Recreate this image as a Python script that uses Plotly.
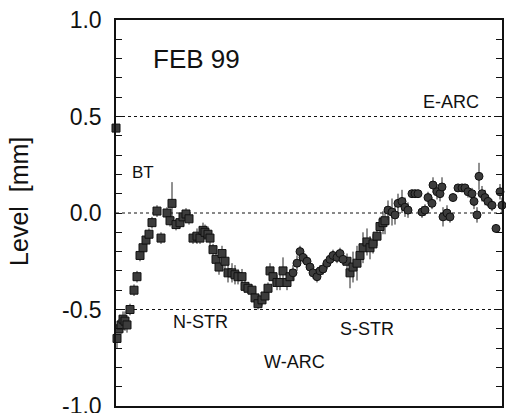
import plotly.graph_objects as go

# position along the ring (arbitrary units) and measured level [mm]
position = [0, 1, 3, 5, 7, 9, 11, 14, 18, 21, 24, 27, 30, 33, 36, 41, 45, 51, 54, 56, 60, 64, 67, 70,
            73, 77, 81, 84, 87, 89, 92, 94, 97, 100, 103, 106, 109, 112, 116, 119, 122, 126, 129, 132,
            136, 139, 142, 146, 149, 152, 154, 157, 161, 164, 167, 171, 174, 177, 181, 184, 187, 191,
            194, 197, 201, 204, 207, 211, 214, 217, 221, 224, 227, 231, 234, 237, 241, 244, 247, 251,
            254, 257, 261, 264, 267, 269, 272, 276, 279, 282, 286, 289, 292, 296, 299, 302, 306, 309,
            312, 316, 317, 321, 324, 326, 327, 331, 334, 337, 342, 346, 349, 352, 356, 358, 361, 363,
            366, 369, 372, 376, 380, 384, 386]
level = [0.44, -0.65, -0.60, -0.58, -0.55, -0.56, -0.58, -0.50, -0.40, -0.33, -0.22, -0.18, -0.14,
         -0.11, -0.05, 0.01, -0.13, 0.00, -0.04, 0.05, -0.06, -0.05, -0.02, -0.005, -0.03, -0.13,
         -0.12, -0.13, -0.09, -0.10, -0.11, -0.13, -0.19, -0.24, -0.28, -0.21, -0.25, -0.31, -0.31,
         -0.32, -0.33, -0.33, -0.38, -0.39, -0.40, -0.44, -0.47, -0.45, -0.43, -0.39, -0.30, -0.33,
         -0.36, -0.36, -0.30, -0.36, -0.33, -0.31, -0.26, -0.20, -0.23, -0.25, -0.28, -0.31, -0.33,
         -0.30, -0.29, -0.26, -0.24, -0.22, -0.23, -0.21, -0.24, -0.25, -0.31, -0.28, -0.26, -0.22,
         -0.18, -0.15, -0.18, -0.16, -0.12, -0.07, -0.05, -0.04, 0.015, 0.005, -0.01, 0.05, 0.06,
         0.03, 0.015, 0.10, 0.10, 0.10, 0.005, 0.015, 0.08, 0.05, 0.145, 0.11, 0.10, 0.135, -0.02,
         0.00, -0.02, 0.08, 0.13, 0.13, 0.13, 0.11, 0.10, 0.06, -0.01, 0.19, 0.10, 0.08, 0.06, 0.04,
         -0.08, 0.11, 0.04]
error = [0.02, 0.05, 0.05, 0.05, 0.04, 0.05, 0.04, 0.03, 0.03, 0.03, 0.03, 0.03, 0.03, 0.03, 0.03,
         0.03, 0.03, 0.03, 0.03, 0.11, 0.03, 0.03, 0.03, 0.03, 0.03, 0.03, 0.04, 0.03, 0.04, 0.04,
         0.04, 0.04, 0.03, 0.04, 0.04, 0.04, 0.04, 0.05, 0.05, 0.05, 0.04, 0.04, 0.03, 0.03, 0.03,
         0.03, 0.03, 0.03, 0.03, 0.03, 0.04, 0.04, 0.04, 0.04, 0.07, 0.04, 0.04, 0.04, 0.04, 0.03,
         0.03, 0.03, 0.03, 0.03, 0.03, 0.03, 0.03, 0.03, 0.03, 0.03, 0.03, 0.03, 0.03, 0.04, 0.08,
         0.08, 0.09, 0.06, 0.08, 0.07, 0.06, 0.05, 0.05, 0.05, 0.06, 0.07, 0.05, 0.07, 0.05, 0.05,
         0.06, 0.05, 0.04, 0.02, 0.02, 0.02, 0.03, 0.03, 0.03, 0.03, 0.04, 0.04, 0.04, 0.05, 0.05,
         0.04, 0.03, 0.02, 0.02, 0.02, 0.02, 0.03, 0.03, 0.04, 0.04, 0.07, 0.04, 0.04, 0.03, 0.03,
         0.02, 0.04, 0.04]

ref_levels = [0.5, 0.0, -0.5]
region_labels = ["FEB 99", "BT", "E-ARC", "N-STR", "S-STR", "W-ARC"]
region_x = [80, 27, 335, 84, 251, 178]
region_y = [0.80, 0.21, 0.575, -0.565, -0.60, -0.77]
region_size = [26, 17, 18, 18, 18, 18]

y_ticks = [round(-1.0 + 0.1 * i, 1) for i in range(21)]
y_labels = ["%.1f" % v if abs(v * 2 - round(v * 2)) < 1e-6 else "" for v in y_ticks]

FONT = "Liberation Sans, Arial, Helvetica, sans-serif"

def in_square_group(p):
    return p <= 174 or 231 <= p <= 269

sq = [i for i, p in enumerate(position) if in_square_group(p)]
ci = [i for i, p in enumerate(position) if not in_square_group(p)]

fig = go.Figure()
for idx, sym in ((sq, "square"), (ci, "circle")):
    fig.add_trace(go.Scatter(
        x=[position[i] for i in idx], y=[level[i] for i in idx],
        mode="markers",
        marker=dict(symbol=sym, size=8, color="#3c3c3c", line=dict(color="#111", width=1)),
        error_y=dict(type="data", array=[error[i] for i in idx], color="#222", thickness=1, width=0),
        cliponaxis=False, showlegend=False,
    ))

for v in ref_levels:
    fig.add_shape(type="line", xref="paper", x0=0, x1=1, yref="y", y0=v, y1=v,
                  line=dict(color="#111", width=1, dash="dot"), layer="below")

for t, x, y, s in zip(region_labels, region_x, region_y, region_size):
    fig.add_annotation(x=x, y=y, text=t, showarrow=False,
                       font=dict(family=FONT, size=s, color="#111"))

fig.add_annotation(xref="paper", yref="paper", x=-0.25, y=0.53, text="Level  [mm]",
                   textangle=-90, showarrow=False, xanchor="center", yanchor="middle",
                   font=dict(family=FONT, size=25, color="#111"))

fig.update_layout(
    width=506, height=413,
    margin=dict(l=116, r=4, t=20, b=7, autoexpand=False),
    paper_bgcolor="white", plot_bgcolor="white",
    xaxis=dict(range=[0, 386], showgrid=False, zeroline=False, showticklabels=False,
               ticks="", showline=True, mirror=True, linecolor="#111", linewidth=1.5,
               automargin=False),
    yaxis=dict(range=[-1.0, 1.0], showgrid=False, zeroline=False,
               tickmode="array", tickvals=y_ticks, ticktext=y_labels,
               ticks="inside", ticklen=6, tickwidth=1, tickcolor="#111",
               showline=True, mirror="ticks", linecolor="#111", linewidth=1.5,
               tickfont=dict(family=FONT, size=23, color="#111"), ticklabelstandoff=8,
               ticklabeloverflow="allow", automargin=False),
)

fig.write_html("out.html", config={"displayModeBar": False},
               post_script="document.body.style.margin='0';document.body.style.padding='0';")
